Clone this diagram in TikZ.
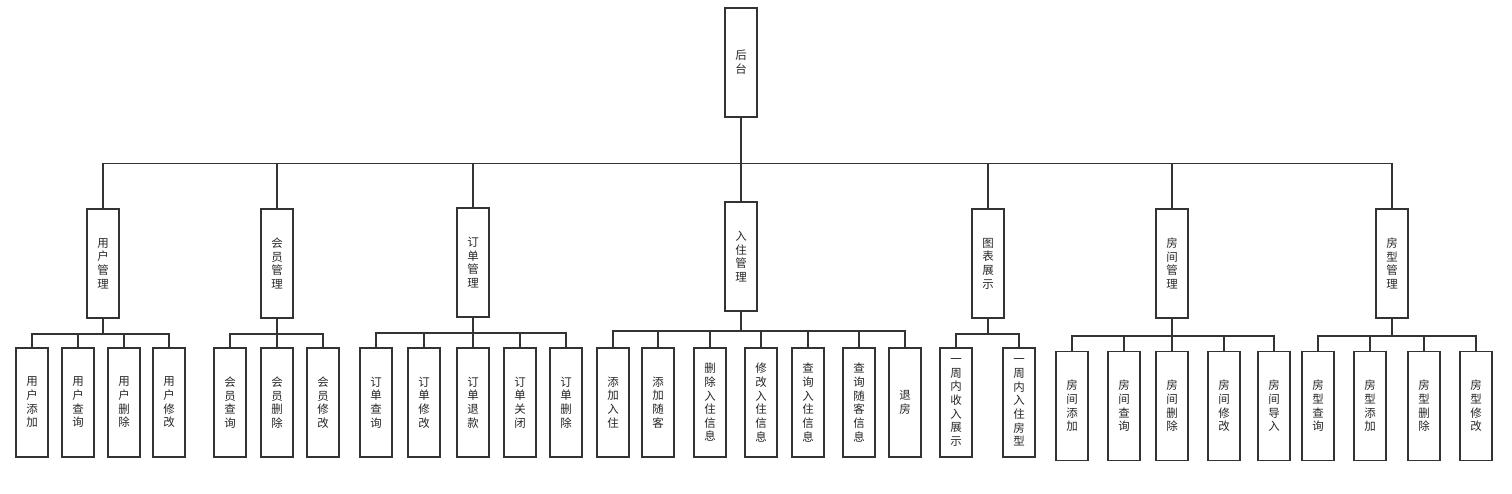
\documentclass[tikz,border=0pt]{standalone}
\usepackage{fontspec}
\newfontfamily\cjk{Noto Sans CJK SC}
\tikzset{
  box/.style={draw=black!80, line width=1.5bp, minimum width=32bp, minimum height=109bp,
    inner sep=0pt, align=center, text=black!85, font=\cjk\fontsize{11.5}{13.7}\selectfont},
  link/.style={draw=black!80, line width=1.5bp}
}
\begin{document}
\begin{tikzpicture}
[x=1bp,y=-1bp]
\useasboundingbox (0,0) rectangle (1512,494);

% top
\node[box] (root) at (741,62.5) {后\\台};

% second level
\node[box] (user) at (103,263.5) {用\\户\\管\\理};
\node[box] (vip) at (277,263.5) {会\\员\\管\\理};
\node[box] (order) at (473,262.5) {订\\单\\管\\理};
\node[box] (stay) at (741,256.5) {入\\住\\管\\理};
\node[box] (chart) at (988,263.5) {图\\表\\展\\示};
\node[box] (room) at (1172,263.5) {房\\间\\管\\理};
\node[box] (rtype) at (1392,263.5) {房\\型\\管\\理};

\foreach \m in {user,vip,order,stay,chart,room,rtype}{
\draw[link] (root.south) -- ++(0,46) -| (\m.north);
}

% leaves
\foreach \x/\t [count=\i] in {32/用\\户\\添\\加, 78/用\\户\\查\\询, 124/用\\户\\删\\除, 169/用\\户\\修\\改}{
\node[box] (user\i) at (\x,402.5) {\t};
\draw[link] (user.south) -- ++(0,15) -| (user\i.north);
}
\foreach \x/\t [count=\i] in {230/会\\员\\查\\询, 277/会\\员\\删\\除, 323/会\\员\\修\\改}{
\node[box] (vip\i) at (\x,402.5) {\t};
\draw[link] (vip.south) -- ++(0,15) -| (vip\i.north);
}
\foreach \x/\t [count=\i] in {376/订\\单\\查\\询, 424/订\\单\\修\\改, 473/订\\单\\退\\款, 520/订\\单\\关\\闭, 566/订\\单\\删\\除}{
\node[box] (order\i) at (\x,402.5) {\t};
\draw[link] (order.south) -- ++(0,15) -| (order\i.north);
}
\foreach \x/\t [count=\i] in {613/添\\加\\入\\住, 658/添\\加\\随\\客, 710/删\\除\\入\\住\\信\\息, 761/修\\改\\入\\住\\信\\息, 808/查\\询\\入\\住\\信\\息, 859/查\\询\\随\\客\\信\\息, 905/退\\房}{
\node[box] (stay\i) at (\x,402.5) {\t};
\draw[link] (stay.south) -- ++(0,19) -| (stay\i.north);
}
\foreach \x/\t [count=\i] in {956/一\\周\\内\\收\\入\\展\\示, 1019/一\\周\\内\\入\\住\\房\\型}{
\node[box] (chart\i) at (\x,402.5) {\t};
\draw[link] (chart.south) -- ++(0,15) -| (chart\i.north);
}
\foreach \x/\t [count=\i] in {1072/房\\间\\添\\加, 1124/房\\间\\查\\询, 1172/房\\间\\删\\除, 1224/房\\间\\修\\改, 1274/房\\间\\导\\入}{
\node[box] (room\i) at (\x,406) {\t};
\draw[link] (room.south) -- ++(0,17) -| (room\i.north);
}
\foreach \x/\t [count=\i] in {1318/房\\型\\查\\询, 1370/房\\型\\添\\加, 1424/房\\型\\删\\除, 1476/房\\型\\修\\改}{
\node[box] (rtype\i) at (\x,406) {\t};
\draw[link] (rtype.south) -- ++(0,17) -| (rtype\i.north);
}
\end{tikzpicture}
\end{document}
